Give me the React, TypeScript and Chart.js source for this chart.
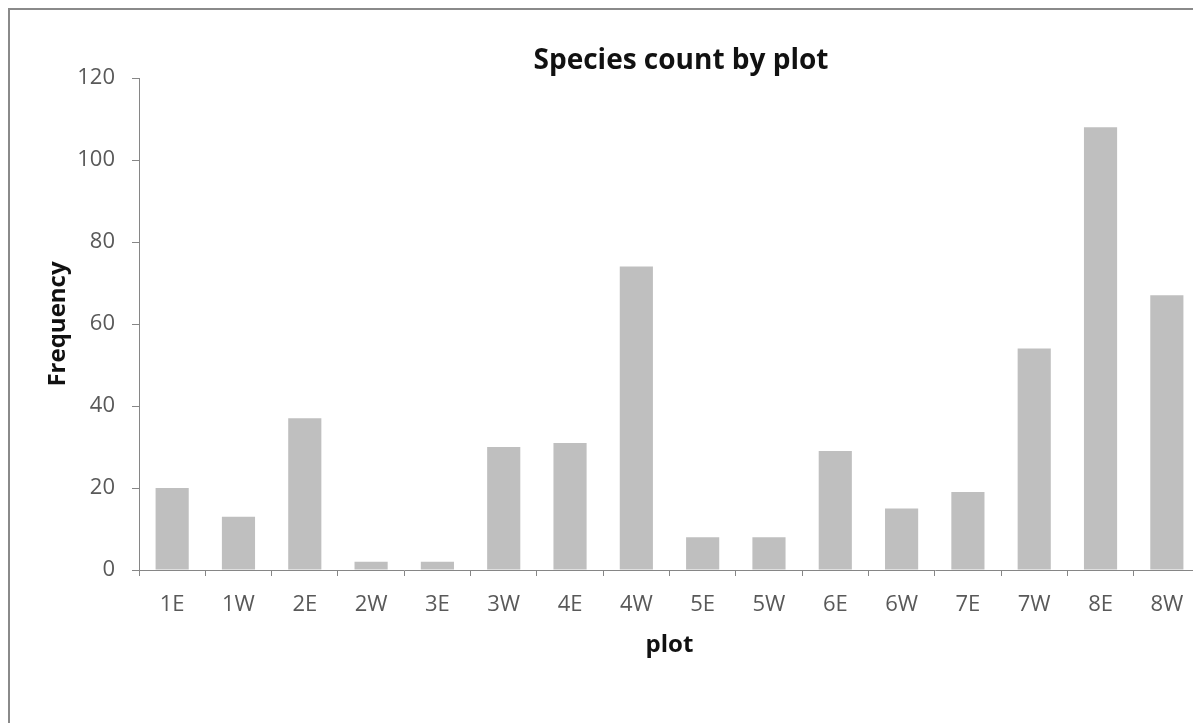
import React, { useEffect, useRef } from "react";
import { Chart, registerables } from "chart.js";

Chart.register(...registerables);

const categories = ["1E", "1W", "2E", "2W", "3E", "3W", "4E", "4W", "5E", "5W", "6E", "6W", "7E", "7W", "8E", "8W"];
const frequency = [20, 13, 37, 2, 2, 30, 31, 74, 8, 8, 29, 15, 19, 54, 108, 67];
const yTicks = [0, 20, 40, 60, 80, 100, 120];

const FONT = "'Open Sans', 'DejaVu Sans', sans-serif";
const AXIS_COLOR = "#868686";
const CANVAS_W = 1342;
const CANVAS_H = 713;

export default function App() {
  const ref = useRef<HTMLCanvasElement | null>(null);

  useEffect(() => {
    if (!ref.current) return;
    const chart = new Chart(ref.current, {
      type: "bar",
      data: {
        labels: categories,
        datasets: [
          {
            label: "Frequency",
            data: frequency,
            backgroundColor: "#bfbfbf",
            borderWidth: 0,
            barPercentage: 0.5,
            categoryPercentage: 1,
          },
        ],
      },
      options: {
        responsive: false,
        animation: false,
        devicePixelRatio: 1,
        layout: { padding: 0 },
        plugins: {
          legend: { display: false },
          tooltip: { enabled: false },
          title: {
            display: true,
            text: "Species count by plot",
            color: "#111111",
            font: { family: FONT, size: 28, weight: "bold" },
            padding: { top: 34.2, bottom: 0.2 },
          },
        },
        scales: {
          x: {
            afterFit: (s: any) => {
              s.height = 153;
            },
            grid: {
              offset: true,
              drawOnChartArea: false,
              drawTicks: true,
              tickLength: 6,
              tickColor: AXIS_COLOR,
              tickWidth: 1,
            },
            border: { display: true, color: AXIS_COLOR, width: 1 },
            ticks: {
              color: "#595959",
              padding: 15.8,
              font: { family: FONT, size: 22 },
              maxRotation: 0,
              autoSkip: false,
            },
            title: {
              display: true,
              text: "plot",
              color: "#111111",
              font: { family: FONT, size: 24, weight: "bold" },
              padding: { top: 0, bottom: 63.6 },
            },
          },
          y: {
            min: 0,
            max: 120,
            afterFit: (s: any) => {
              s.width = 129;
            },
            afterBuildTicks: (s: any) => {
              s.ticks = yTicks.map((v) => ({ value: v }));
            },
            grid: {
              drawOnChartArea: false,
              drawTicks: true,
              tickLength: 7,
              tickColor: AXIS_COLOR,
            },
            border: { display: true, color: AXIS_COLOR, width: 1 },
            ticks: {
              color: "#595959",
              padding: 17,
              font: { family: FONT, size: 22 },
            },
            title: {
              display: true,
              text: "Frequency",
              color: "#111111",
              font: { family: FONT, size: 24, weight: "bold" },
              padding: { top: 33.6, bottom: 0 },
            },
          },
          spacer: {
            type: "linear",
            position: "right",
            display: true,
            afterFit: (s: any) => {
              s.width = 152;
            },
            grid: { display: false, drawTicks: false },
            border: { display: false },
            ticks: { display: false },
          },
        },
      },
    });
    return () => chart.destroy();
  }, []);

  return (
    <div
      style={{
        position: "fixed",
        left: 8,
        top: 8,
        right: 0,
        bottom: 0,
        overflow: "hidden",
        borderLeft: "2px solid #8a8a8a",
        borderTop: "2px solid #8a8a8a",
        background: "#ffffff",
      }}
    >
      <div style={{ width: CANVAS_W, height: CANVAS_H, position: "relative" }}>
        <canvas
          ref={ref}
          width={CANVAS_W}
          height={CANVAS_H}
          style={{ display: "block", width: CANVAS_W, height: CANVAS_H }}
        />
      </div>
    </div>
  );
}
